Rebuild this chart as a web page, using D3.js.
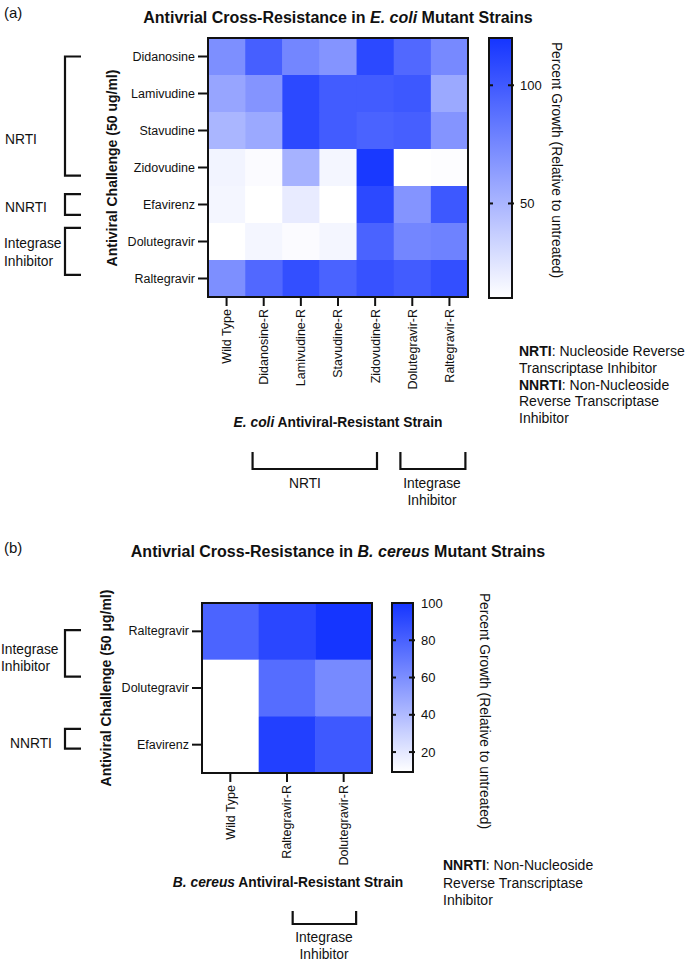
<!DOCTYPE html>
<html><head><meta charset="utf-8">
<script src="https://cdn.jsdelivr.net/npm/d3@7"></script>
<style>body{margin:0;background:#fff}svg{display:block;font-family:"Liberation Sans",Arial,sans-serif}</style>
</head><body>
<svg id="c" width="685" height="961"></svg>
<script>
// ---------- DATA ----------
const strainsA = ["Wild Type","Didanosine-R","Lamivudine-R","Stavudine-R","Zidovudine-R","Dolutegravir-R","Raltegravir-R"];
const drugsA = ["Didanosine","Lamivudine","Stavudine","Zidovudine","Efavirenz","Dolutegravir","Raltegravir"];
const growthA = [
  [71, 97, 76, 68, 109, 92, 74],
  [59, 68, 109, 99, 99, 101, 57],
  [50, 57, 109, 99, 95, 97, 68],
  [16, 12, 52, 15, 118, 10, 11],
  [15, 10, 21, 10, 109, 68, 101],
  [10, 15, 12, 15, 95, 76, 78],
  [71, 92, 106, 95, 104, 99, 106]
];
const ticksA = [50, 100];
const domainA = [10, 120];

const strainsB = ["Wild Type","Raltegravir-R","Dolutegravir-R"];
const drugsB = ["Raltegravir","Dolutegravir","Efavirenz"];
const growthB = [
  [79, 92, 100],
  [9.3, 75, 62],
  [9.3, 95, 84]
];
const ticksB = [20, 40, 60, 80, 100];
const domainB = [9.3, 100];

// ---------- DRAW ----------
const svg = d3.select("#c");
svg.append("rect").attr("width",685).attr("height",961).attr("fill","#fff");
const FONT = 12.5;
const LAB = 13.8;

function heatmap(o){
  const g = svg.append("g");
  const x = d3.scaleBand().domain(o.strains).range([o.x0,o.x1]);
  const y = d3.scaleBand().domain(o.drugs).range([o.y0,o.y1]);
  const col = d3.scaleLinear().domain(o.domain).range(["#ffffff","#1535ff"]).clamp(true);
  const cells = [];
  o.values.forEach((row,i)=>row.forEach((v,j)=>cells.push({d:o.drugs[i],s:o.strains[j],v})));
  g.selectAll("rect.cell").data(cells).join("rect").attr("class","cell")
    .attr("x",d=>x(d.s)).attr("y",d=>y(d.d))
    .attr("width",x.bandwidth()+0.5).attr("height",y.bandwidth()+0.5)
    .attr("fill",d=>col(d.v));
  g.append("rect").attr("x",o.x0).attr("y",o.y0).attr("width",o.x1-o.x0).attr("height",o.y1-o.y0)
    .attr("fill","none").attr("stroke","#111").attr("stroke-width",2);
  // y axis
  const ya = g.append("g").attr("transform",`translate(${o.x0-1},0)`)
    .call(d3.axisLeft(y).tickSize(9).tickSizeOuter(0).tickPadding(3));
  ya.select(".domain").remove();
  ya.selectAll("line").attr("stroke","#111").attr("stroke-width",2);
  ya.selectAll("text").attr("font-size",FONT).attr("fill","#111").attr("font-family","Liberation Sans, Arial");
  // x axis
  const xa = g.append("g").attr("transform",`translate(0,${o.y1+1})`)
    .call(d3.axisBottom(x).tickSize(8).tickSizeOuter(0).tickPadding(3));
  xa.select(".domain").remove();
  xa.selectAll("line").attr("stroke","#111").attr("stroke-width",2);
  xa.selectAll("text").attr("font-size",FONT).attr("fill","#111").attr("font-family","Liberation Sans, Arial")
    .attr("transform","rotate(-90)").attr("text-anchor","end").attr("dy","0.35em").attr("x",-11).attr("y",0);
  // colorbar
  const cb = o.cb;
  const gid = "grad"+o.id;
  const lg = svg.append("defs").append("linearGradient").attr("id",gid)
    .attr("x1",0).attr("x2",0).attr("y1",1).attr("y2",0);
  d3.range(0,1.0001,0.05).forEach(t=>{
    lg.append("stop").attr("offset",t).attr("stop-color",col(o.domain[0]+t*(o.domain[1]-o.domain[0])));
  });
  const cy = d3.scaleLinear().domain(o.domain).range([cb.y1,cb.y0]);
  g.append("rect").attr("x",cb.x0).attr("y",cb.y0).attr("width",cb.x1-cb.x0).attr("height",cb.y1-cb.y0)
    .attr("fill",`url(#${gid})`).attr("stroke","#111").attr("stroke-width",2);
  o.ticks.forEach(t=>{
    const yy = cy(t);
    if (Math.abs(yy-cb.y0)>2){
      g.append("line").attr("x1",cb.x0).attr("x2",cb.x0+4).attr("y1",yy).attr("y2",yy).attr("stroke","#111").attr("stroke-width",2);
      g.append("line").attr("x1",cb.x1-4).attr("x2",cb.x1+2).attr("y1",yy).attr("y2",yy).attr("stroke","#111").attr("stroke-width",2);
    }
    g.append("text").attr("x",cb.x1+8).attr("y",yy).attr("dy","0.35em").attr("font-size",13).attr("fill","#111").text(t);
  });
  g.append("text").attr("transform",`translate(${cb.lx},${cb.ly}) rotate(90)`).attr("text-anchor","middle")
    .attr("dy","0.35em").attr("font-size",LAB).attr("fill","#111").text("Percent Growth (Relative to untreated)");
  return {x,y};
}

function bracketV(x, y0, y1, w){
  svg.append("path").attr("d",`M${x+w},${y0}H${x}V${y1}H${x+w}`).attr("fill","none").attr("stroke","#111").attr("stroke-width",2.2);
}
function bracketH(x0, x1, y0, y1){
  svg.append("path").attr("d",`M${x0},${y0}V${y1}H${x1}V${y0}`).attr("fill","none").attr("stroke","#111").attr("stroke-width",2.2);
}
function txt(x,y,s,opt={}){
  const t = svg.append("text").attr("x",x).attr("y",y).attr("font-size",opt.size||LAB).attr("fill","#111")
    .attr("text-anchor",opt.anchor||"start");
  if (opt.bold) t.attr("font-weight","bold");
  return t.text(s);
}
function richTitle(x,y,parts,size){
  const t = svg.append("text").attr("x",x).attr("y",y).attr("text-anchor","middle").attr("font-size",size).attr("font-weight","bold").attr("fill","#111");
  parts.forEach(p=>{const ts=t.append("tspan").text(p[0]); if(p[1]) ts.attr("font-style","italic");});
  return t;
}

// ===== Panel (a) =====
txt(4,18,"(a)",{size:15});
richTitle(338,23,[["Antivrial Cross-Resistance in "],["E. coli",1],[" Mutant Strains"]],16);
const A = heatmap({id:"a",strains:strainsA,drugs:drugsA,values:growthA,domain:domainA,ticks:ticksA,
  x0:208,x1:468,y0:38,y1:297, cb:{x0:489,x1:512,y0:38,y1:298,lx:557,ly:160}});
svg.append("text").attr("transform","translate(112,168) rotate(-90)").attr("text-anchor","middle").attr("dy","0.35em")
  .attr("font-size",14).attr("font-weight","bold").attr("fill","#111").text("Antiviral Challenge (50 ug/ml)");
richTitle(338,427,[["E. coli",1],[" Antiviral-Resistant Strain"]],13.8);
// left brackets
const bwA = A.y.bandwidth();
bracketV(65, A.y("Didanosine")+bwA*0.5, A.y("Zidovudine")+bwA*0.72, 16);
bracketV(65, A.y("Efavirenz")+bwA*0.22, A.y("Efavirenz")+bwA*0.78, 16);
bracketV(65, A.y("Dolutegravir")+bwA*0.13, A.y("Raltegravir")+bwA*0.4, 16);
txt(5,144,"NRTI");
txt(5,212,"NNRTI");
txt(4,248,"Integrase");
txt(4,266,"Inhibitor");
// bottom brackets
const cw = A.x.bandwidth();
bracketH(A.x("Didanosine-R")+cw*0.2, A.x("Zidovudine-R")+cw*0.55, 452, 469);
bracketH(A.x("Dolutegravir-R")+cw*0.18, A.x("Raltegravir-R")+cw*0.93, 452, 469);
txt(305,488,"NRTI",{anchor:"middle"});
txt(432,488,"Integrase",{anchor:"middle"});
txt(432,505,"Inhibitor",{anchor:"middle"});
// definitions
const defA = svg.append("text").attr("x",519).attr("y",356).attr("font-size",14).attr("fill","#111");
[[["NRTI",1],[": Nucleoside Reverse"]],[["Transcriptase Inhibitor"]],[["NNRTI",1],[": Non-Nucleoside"]],[["Reverse Transcriptase"]],[["Inhibitor"]]]
  .forEach((line,i)=>{line.forEach((p,k)=>{const ts=defA.append("tspan").text(p[0]); if(k===0){ts.attr("x",519).attr("dy",i===0?0:16.8);} if(p[1]) ts.attr("font-weight","bold");});});

// ===== Panel (b) =====
txt(4,553,"(b)",{size:15});
richTitle(338,557,[["Antivrial Cross-Resistance in "],["B. cereus",1],[" Mutant Strains"]],16);
const B = heatmap({id:"b",strains:strainsB,drugs:drugsB,values:growthB,domain:domainB,ticks:ticksB,
  x0:202,x1:372,y0:603,y1:773, cb:{x0:392,x1:413,y0:603,y1:772,lx:485,ly:711}});
svg.append("text").attr("transform","translate(106,688) rotate(-90)").attr("text-anchor","middle").attr("dy","0.35em")
  .attr("font-size",14).attr("font-weight","bold").attr("fill","#111").text("Antiviral Challenge (50 μg/ml)");
richTitle(288,887,[["B. cereus",1],[" Antiviral-Resistant Strain"]],13.8);
const bwB = B.y.bandwidth();
bracketV(65, B.y("Raltegravir")+bwB*0.48, B.y("Dolutegravir")+bwB*0.3, 16);
bracketV(65, B.y("Efavirenz")+bwB*0.22, B.y("Efavirenz")+bwB*0.57, 16);
txt(1,654,"Integrase");
txt(1,671,"Inhibitor");
txt(10,748,"NNRTI");
const cwB = B.x.bandwidth();
bracketH(B.x("Raltegravir-R")+cwB*0.6, B.x("Dolutegravir-R")+cwB*0.72, 911, 924);
txt(324,942,"Integrase",{anchor:"middle"});
txt(324,959,"Inhibitor",{anchor:"middle"});
const defB = svg.append("text").attr("x",443).attr("y",870).attr("font-size",14).attr("fill","#111");
[[["NNRTI",1],[": Non-Nucleoside"]],[["Reverse Transcriptase"]],[["Inhibitor"]]]
  .forEach((line,i)=>{line.forEach((p,k)=>{const ts=defB.append("tspan").text(p[0]); if(k===0){ts.attr("x",443).attr("dy",i===0?0:17.5);} if(p[1]) ts.attr("font-weight","bold");});});
</script>
</body></html>
